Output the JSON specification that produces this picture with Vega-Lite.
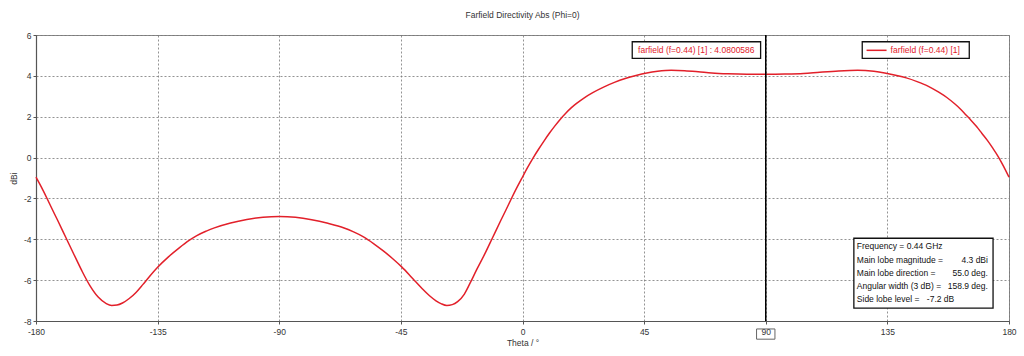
{
  "$schema": "https://vega.github.io/schema/vega-lite/v6.json",
  "width": 973,
  "height": 286,
  "autosize": {"type": "none"},
  "padding": {"left": 36, "top": 35, "right": 15, "bottom": 35},
  "background": "white",
  "title": {"text": "Farfield Directivity Abs (Phi=0)", "font": "Liberation Sans", "fontSize": 8.5, "fontWeight": "normal", "color": "#333333", "offset": 12, "anchor": "middle"},
  "config": {
    "view": {"stroke": "#8a8a8a", "strokeWidth": 1},
    "axis": {
      "labelFont": "Liberation Sans", "labelFontSize": 8.5, "labelColor": "#333333",
      "titleFont": "Liberation Sans", "titleFontSize": 8.5, "titleFontWeight": "normal", "titleColor": "#333333",
      "domainColor": "#555555", "domainWidth": 1.2, "tickColor": "#555555", "tickSize": 3,
      "gridColor": "#777777", "gridDash": [2, 2], "gridWidth": 0.8
    }
  },
  "datasets": {
    "curve": [
      {"theta": -180, "db": -0.96}, {"theta": -178, "db": -1.45}, {"theta": -176, "db": -1.98},
      {"theta": -174, "db": -2.53}, {"theta": -172, "db": -3.07}, {"theta": -169, "db": -3.9},
      {"theta": -166, "db": -4.73}, {"theta": -163, "db": -5.55}, {"theta": -160, "db": -6.28},
      {"theta": -157, "db": -6.83}, {"theta": -154, "db": -7.15}, {"theta": -152, "db": -7.24},
      {"theta": -150, "db": -7.22}, {"theta": -148, "db": -7.12}, {"theta": -145.5, "db": -6.9},
      {"theta": -143, "db": -6.6}, {"theta": -140.5, "db": -6.22}, {"theta": -138, "db": -5.82},
      {"theta": -135, "db": -5.37}, {"theta": -131, "db": -4.86}, {"theta": -127, "db": -4.42},
      {"theta": -123.5, "db": -4.07}, {"theta": -120.5, "db": -3.82}, {"theta": -117, "db": -3.6},
      {"theta": -114, "db": -3.44}, {"theta": -108, "db": -3.2}, {"theta": -102, "db": -3.03},
      {"theta": -96, "db": -2.92}, {"theta": -90, "db": -2.88}, {"theta": -84, "db": -2.92},
      {"theta": -78, "db": -3.04}, {"theta": -72, "db": -3.22}, {"theta": -66, "db": -3.45},
      {"theta": -62.5, "db": -3.64}, {"theta": -59, "db": -3.87}, {"theta": -55, "db": -4.22},
      {"theta": -51.5, "db": -4.57}, {"theta": -48, "db": -4.95}, {"theta": -44.7, "db": -5.35},
      {"theta": -42, "db": -5.72}, {"theta": -39.5, "db": -6.08}, {"theta": -37, "db": -6.43},
      {"theta": -34.5, "db": -6.75}, {"theta": -32, "db": -7.01}, {"theta": -30, "db": -7.16},
      {"theta": -28, "db": -7.24}, {"theta": -26, "db": -7.2}, {"theta": -24, "db": -7.05},
      {"theta": -21.5, "db": -6.68}, {"theta": -19.4, "db": -6.15}, {"theta": -17, "db": -5.5},
      {"theta": -14, "db": -4.73}, {"theta": -11, "db": -3.9}, {"theta": -8, "db": -3.07},
      {"theta": -6, "db": -2.53}, {"theta": -4, "db": -1.98}, {"theta": -2, "db": -1.45},
      {"theta": 0, "db": -0.95}, {"theta": 2, "db": -0.46}, {"theta": 4, "db": 0.0},
      {"theta": 6, "db": 0.42}, {"theta": 8, "db": 0.82}, {"theta": 10, "db": 1.2},
      {"theta": 12, "db": 1.55}, {"theta": 14, "db": 1.88}, {"theta": 16, "db": 2.17},
      {"theta": 18, "db": 2.43}, {"theta": 20, "db": 2.65}, {"theta": 23, "db": 2.94},
      {"theta": 26, "db": 3.18}, {"theta": 30, "db": 3.45}, {"theta": 34, "db": 3.68},
      {"theta": 38, "db": 3.87}, {"theta": 42, "db": 4.02}, {"theta": 46, "db": 4.14},
      {"theta": 50, "db": 4.22}, {"theta": 55, "db": 4.27}, {"theta": 60, "db": 4.25},
      {"theta": 65, "db": 4.2}, {"theta": 70, "db": 4.14}, {"theta": 76, "db": 4.1},
      {"theta": 83, "db": 4.08}, {"theta": 90, "db": 4.08}, {"theta": 97, "db": 4.09},
      {"theta": 104, "db": 4.12}, {"theta": 110, "db": 4.18}, {"theta": 117, "db": 4.24},
      {"theta": 124, "db": 4.27}, {"theta": 130, "db": 4.22}, {"theta": 134, "db": 4.14},
      {"theta": 138, "db": 4.03}, {"theta": 142, "db": 3.9}, {"theta": 146, "db": 3.72},
      {"theta": 150, "db": 3.5}, {"theta": 154, "db": 3.2}, {"theta": 157, "db": 2.94},
      {"theta": 160, "db": 2.62}, {"theta": 162, "db": 2.38}, {"theta": 164, "db": 2.1},
      {"theta": 166, "db": 1.82}, {"theta": 168, "db": 1.52}, {"theta": 170, "db": 1.18},
      {"theta": 172, "db": 0.84}, {"theta": 174, "db": 0.46}, {"theta": 176, "db": 0.05},
      {"theta": 178, "db": -0.43}, {"theta": 180, "db": -0.96}
    ],
    "boxes": [
      {"theta": 40.6, "theta2": 88.1, "db": 5.67, "db2": 4.86},
      {"theta": 125.7, "theta2": 165.3, "db": 5.67, "db2": 4.86},
      {"theta": 122.6, "theta2": 174.1, "db": -3.95, "db2": -7.37}
    ],
    "leftTexts": [
      {"theta": 123.7, "db": -4.33, "label": "Frequency = 0.44 GHz"},
      {"theta": 123.7, "db": -4.99, "label": "Main lobe magnitude ="},
      {"theta": 123.7, "db": -5.64, "label": "Main lobe direction ="},
      {"theta": 123.7, "db": -6.29, "label": "Angular width (3 dB) ="},
      {"theta": 123.7, "db": -6.93, "label": "Side lobe level ="},
      {"theta": 149.6, "db": -6.93, "label": "-7.2 dB"}
    ],
    "rightTexts": [
      {"theta": 172.2, "db": -4.99, "label": "4.3 dBi"},
      {"theta": 172.2, "db": -5.64, "label": "55.0 deg."},
      {"theta": 172.2, "db": -6.29, "label": "158.9 deg."}
    ]
  },
  "layer": [
    {
      "data": {"name": "curve"},
      "mark": {"type": "line", "color": "#e2202a", "strokeWidth": 1.5, "interpolate": "monotone"},
      "encoding": {
        "x": {"field": "theta", "type": "quantitative",
              "scale": {"domain": [-180, 180], "nice": false, "zero": false},
              "axis": {"title": "Theta / °", "values": [-180, -135, -90, -45, 0, 45, 90, 135, 180], "labelExpr": "'' + datum.value", "labelPadding": 3, "titlePadding": 3, "labelFlush": false, "labelOverlap": false}},
        "y": {"field": "db", "type": "quantitative",
              "scale": {"domain": [-8, 6], "nice": false, "zero": false},
              "axis": {"title": "dBi", "values": [-8, -6, -4, -2, 0, 2, 4, 6], "labelExpr": "'' + datum.value", "labelPadding": 2, "titlePadding": 5}}
      }
    },
    {
      "data": {"values": [{"theta": 90}]},
      "mark": {"type": "rule", "color": "#000000", "strokeWidth": 1.5},
      "encoding": {"x": {"field": "theta", "type": "quantitative"}}
    },
    {
      "data": {"values": [{"theta": 86.6, "theta2": 93.4, "db": -8.39, "db2": -8.89}]},
      "mark": {"type": "rect", "fill": null, "stroke": "#666666", "strokeWidth": 1},
      "encoding": {
        "x": {"field": "theta", "type": "quantitative"}, "x2": {"field": "theta2"},
        "y": {"field": "db", "type": "quantitative"}, "y2": {"field": "db2"}
      }
    },
    {
      "data": {"name": "boxes"},
      "mark": {"type": "rect", "fill": "white", "stroke": "#111111", "strokeWidth": 1.3},
      "encoding": {
        "x": {"field": "theta", "type": "quantitative"}, "x2": {"field": "theta2"},
        "y": {"field": "db", "type": "quantitative"}, "y2": {"field": "db2"}
      }
    },
    {
      "data": {"values": [{"theta": 127.3, "theta2": 134.7, "db": 5.25}]},
      "mark": {"type": "rule", "color": "#e2202a", "strokeWidth": 1.5},
      "encoding": {
        "x": {"field": "theta", "type": "quantitative"}, "x2": {"field": "theta2"},
        "y": {"field": "db", "type": "quantitative"}
      }
    },
    {
      "data": {"values": [{"theta": 136.2, "db": 5.25, "label": "farfield (f=0.44) [1]"}]},
      "mark": {"type": "text", "align": "left", "baseline": "middle", "font": "Liberation Sans", "fontSize": 8.5, "color": "#e2202a"},
      "encoding": {
        "x": {"field": "theta", "type": "quantitative"},
        "y": {"field": "db", "type": "quantitative"},
        "text": {"field": "label"}
      }
    },
    {
      "data": {"values": [{"theta": 64.3, "db": 5.25, "label": "farfield (f=0.44) [1] : 4.0800586"}]},
      "mark": {"type": "text", "align": "center", "baseline": "middle", "font": "Liberation Sans", "fontSize": 8.5, "color": "#e2202a"},
      "encoding": {
        "x": {"field": "theta", "type": "quantitative"},
        "y": {"field": "db", "type": "quantitative"},
        "text": {"field": "label"}
      }
    },
    {
      "data": {"name": "leftTexts"},
      "mark": {"type": "text", "align": "left", "baseline": "middle", "font": "Liberation Sans", "fontSize": 8.5, "color": "#111111"},
      "encoding": {
        "x": {"field": "theta", "type": "quantitative"},
        "y": {"field": "db", "type": "quantitative"},
        "text": {"field": "label"}
      }
    },
    {
      "data": {"name": "rightTexts"},
      "mark": {"type": "text", "align": "right", "baseline": "middle", "font": "Liberation Sans", "fontSize": 8.5, "color": "#111111"},
      "encoding": {
        "x": {"field": "theta", "type": "quantitative"},
        "y": {"field": "db", "type": "quantitative"},
        "text": {"field": "label"}
      }
    }
  ]
}
